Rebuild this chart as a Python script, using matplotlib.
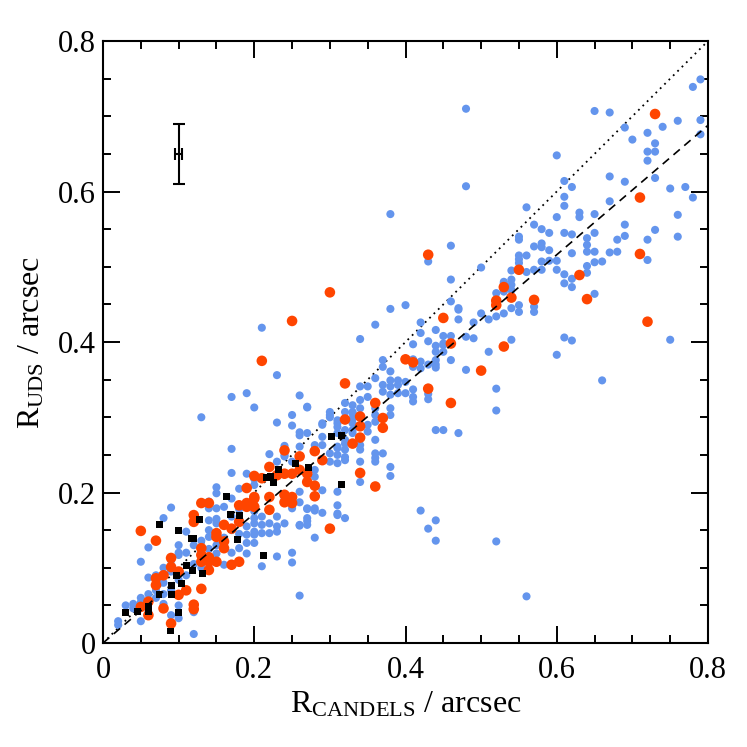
import numpy as np
import matplotlib
matplotlib.use("Agg")
import matplotlib.pyplot as plt
from matplotlib.ticker import MultipleLocator, FixedFormatter, FixedLocator

# sizes in arcsec
blue_pts = [
    (0.02, 0.024), (0.02, 0.029), (0.03, 0.05), (0.04, 0.052), (0.04, 0.046),
    (0.05, 0.029), (0.05, 0.054), (0.05, 0.108), (0.05, 0.06), (0.06, 0.087),
    (0.06, 0.127), (0.06, 0.04), (0.06, 0.065), (0.07, 0.07), (0.07, 0.06),
    (0.07, 0.09), (0.08, 0.166), (0.08, 0.052), (0.08, 0.08), (0.08, 0.10),
    (0.08, 0.065), (0.09, 0.18), (0.09, 0.037), (0.09, 0.095), (0.09, 0.11),
    (0.09, 0.07), (0.10, 0.13), (0.10, 0.117), (0.10, 0.084), (0.10, 0.05),
    (0.10, 0.033), (0.10, 0.12), (0.11, 0.148), (0.11, 0.12), (0.11, 0.09),
    (0.12, 0.041), (0.12, 0.012), (0.12, 0.105), (0.12, 0.13), (0.13, 0.136),
    (0.13, 0.30), (0.13, 0.115), (0.13, 0.10), (0.14, 0.179), (0.14, 0.163),
    (0.14, 0.15), (0.14, 0.125), (0.14, 0.188), (0.14, 0.141), (0.15, 0.199),
    (0.15, 0.165), (0.15, 0.13), (0.15, 0.119), (0.15, 0.207), (0.15, 0.179),
    (0.15, 0.159), (0.16, 0.104), (0.16, 0.14), (0.16, 0.181), (0.17, 0.192),
    (0.17, 0.168), (0.17, 0.15), (0.17, 0.12), (0.17, 0.327), (0.17, 0.258),
    (0.17, 0.226), (0.18, 0.126), (0.18, 0.145), (0.18, 0.205), (0.18, 0.178),
    (0.19, 0.144), (0.19, 0.133), (0.19, 0.119), (0.19, 0.225), (0.19, 0.332),
    (0.19, 0.155), (0.20, 0.159), (0.20, 0.144), (0.20, 0.133), (0.20, 0.166),
    (0.20, 0.21), (0.20, 0.19), (0.20, 0.175), (0.20, 0.313), (0.20, 0.218),
    (0.20, 0.148),
    (0.21, 0.419), (0.23, 0.356), (0.26, 0.329), (0.25, 0.303), (0.23, 0.293),
    (0.25, 0.289), (0.26, 0.280), (0.24, 0.262), (0.22, 0.251), (0.24, 0.248),
    (0.27, 0.313), (0.26, 0.276), (0.28, 0.263), (0.29, 0.292), (0.30, 0.303),
    (0.31, 0.292), (0.32, 0.319), (0.33, 0.316), (0.33, 0.305), (0.33, 0.292),
    (0.33, 0.283), (0.32, 0.283), (0.32, 0.270), (0.32, 0.257), (0.32, 0.243),
    (0.31, 0.261), (0.31, 0.250), (0.31, 0.239), (0.30, 0.252), (0.30, 0.241),
    (0.29, 0.274), (0.29, 0.263), (0.28, 0.230), (0.28, 0.221), (0.29, 0.203),
    (0.31, 0.201), (0.32, 0.166), (0.34, 0.241), (0.26, 0.261), (0.24, 0.250),
    (0.25, 0.241), (0.23, 0.241), (0.21, 0.168), (0.21, 0.157), (0.21, 0.146),
    (0.22, 0.159), (0.22, 0.146), (0.23, 0.168), (0.23, 0.155), (0.23, 0.148),
    (0.24, 0.194), (0.24, 0.159), (0.25, 0.179), (0.26, 0.157), (0.27, 0.166),
    (0.27, 0.157), (0.27, 0.179), (0.28, 0.179), (0.28, 0.140), (0.31, 0.183),
    (0.31, 0.172), (0.27, 0.279), (0.23, 0.115), (0.25, 0.120), (0.25, 0.107),
    (0.26, 0.063), (0.21, 0.102),
    (0.31, 0.259), (0.32, 0.265), (0.32, 0.247), (0.34, 0.257), (0.36, 0.252),
    (0.36, 0.246), (0.36, 0.241), (0.37, 0.252), (0.38, 0.234), (0.38, 0.222),
    (0.34, 0.214), (0.26, 0.201), (0.26, 0.187), (0.27, 0.178), (0.28, 0.176),
    (0.29, 0.173), (0.27, 0.162), (0.26, 0.156), (0.31, 0.170), (0.42, 0.176),
    (0.43, 0.152), (0.44, 0.163), (0.44, 0.136), (0.52, 0.135), (0.56, 0.062),
    (0.40, 0.449), (0.38, 0.444), (0.36, 0.423), (0.34, 0.404), (0.42, 0.426),
    (0.42, 0.412), (0.44, 0.416), (0.46, 0.454), (0.47, 0.445), (0.43, 0.401),
    (0.45, 0.408), (0.46, 0.408), (0.41, 0.397), (0.44, 0.395), (0.44, 0.387),
    (0.45, 0.387), (0.45, 0.396), (0.46, 0.376), (0.43, 0.370), (0.44, 0.370),
    (0.44, 0.376), (0.42, 0.374), (0.42, 0.365), (0.37, 0.376), (0.37, 0.367),
    (0.38, 0.361), (0.36, 0.352), (0.37, 0.343), (0.37, 0.334), (0.38, 0.349),
    (0.38, 0.341), (0.39, 0.349), (0.39, 0.343), (0.39, 0.332), (0.40, 0.347),
    (0.40, 0.332), (0.41, 0.337), (0.41, 0.327), (0.41, 0.321), (0.43, 0.324),
    (0.43, 0.331), (0.35, 0.341), (0.35, 0.327), (0.34, 0.341), (0.34, 0.323),
    (0.34, 0.312), (0.33, 0.307), (0.33, 0.298), (0.33, 0.279), (0.32, 0.307),
    (0.31, 0.296), (0.31, 0.287), (0.31, 0.279), (0.30, 0.307), (0.30, 0.300),
    (0.29, 0.290), (0.27, 0.314), (0.36, 0.312), (0.36, 0.303), (0.36, 0.294),
    (0.38, 0.330), (0.38, 0.312), (0.38, 0.303), (0.35, 0.290), (0.35, 0.281),
    (0.44, 0.283), (0.45, 0.283), (0.47, 0.279), (0.34, 0.263), (0.36, 0.270),
    (0.43, 0.507), (0.47, 0.443), (0.47, 0.430), (0.48, 0.407), (0.49, 0.405),
    (0.49, 0.426), (0.50, 0.438), (0.51, 0.430), (0.52, 0.434), (0.53, 0.438),
    (0.53, 0.478), (0.53, 0.469), (0.54, 0.476), (0.51, 0.387), (0.52, 0.338),
    (0.52, 0.309), (0.48, 0.363), (0.44, 0.366), (0.43, 0.339), (0.41, 0.377),
    (0.41, 0.367),
    (0.48, 0.710), (0.48, 0.607), (0.38, 0.570), (0.46, 0.528), (0.46, 0.483),
    (0.50, 0.499),
    (0.61, 0.593), (0.61, 0.581), (0.56, 0.579), (0.60, 0.566), (0.63, 0.572),
    (0.63, 0.566), (0.65, 0.570), (0.57, 0.556), (0.58, 0.550), (0.59, 0.545),
    (0.61, 0.545), (0.62, 0.543), (0.55, 0.540), (0.55, 0.536), (0.58, 0.531),
    (0.58, 0.526), (0.57, 0.527), (0.59, 0.522), (0.64, 0.538), (0.64, 0.529),
    (0.64, 0.520), (0.65, 0.545), (0.65, 0.520), (0.62, 0.518), (0.55, 0.515),
    (0.55, 0.510), (0.55, 0.505), (0.56, 0.515), (0.58, 0.507), (0.59, 0.508),
    (0.60, 0.508), (0.60, 0.496), (0.54, 0.495), (0.65, 0.506), (0.56, 0.493),
    (0.57, 0.496), (0.58, 0.496), (0.61, 0.490), (0.61, 0.478), (0.62, 0.484),
    (0.62, 0.473), (0.53, 0.480), (0.54, 0.483), (0.54, 0.469), (0.52, 0.465),
    (0.53, 0.467), (0.65, 0.464), (0.45, 0.398), (0.54, 0.445), (0.55, 0.449),
    (0.55, 0.440), (0.57, 0.447), (0.57, 0.440), (0.54, 0.403), (0.61, 0.406),
    (0.62, 0.402), (0.60, 0.383),
    (0.78, 0.739), (0.79, 0.749), (0.76, 0.694), (0.74, 0.686), (0.79, 0.695),
    (0.79, 0.676), (0.69, 0.685), (0.70, 0.669), (0.72, 0.678), (0.73, 0.664),
    (0.72, 0.653), (0.73, 0.653), (0.72, 0.641), (0.65, 0.707), (0.67, 0.705),
    (0.60, 0.648), (0.61, 0.614), (0.62, 0.606), (0.67, 0.620), (0.69, 0.613),
    (0.75, 0.604), (0.77, 0.606), (0.78, 0.592), (0.73, 0.618), (0.67, 0.587),
    (0.76, 0.569), (0.76, 0.540), (0.73, 0.549), (0.68, 0.536), (0.69, 0.541),
    (0.72, 0.536), (0.66, 0.507), (0.67, 0.519), (0.69, 0.556), (0.68, 0.520),
    (0.72, 0.509), (0.64, 0.501), (0.64, 0.492), (0.66, 0.349), (0.75, 0.403),
]

red_pts = [
    (0.05, 0.149), (0.07, 0.136), (0.05, 0.048), (0.06, 0.037), (0.06, 0.055),
    (0.08, 0.046), (0.07, 0.086), (0.07, 0.077), (0.08, 0.090), (0.09, 0.113),
    (0.09, 0.101), (0.10, 0.095), (0.10, 0.064), (0.11, 0.070), (0.12, 0.051),
    (0.12, 0.045), (0.13, 0.072), (0.12, 0.170), (0.12, 0.161), (0.13, 0.186),
    (0.14, 0.186), (0.13, 0.126), (0.13, 0.117), (0.13, 0.108), (0.14, 0.108),
    (0.14, 0.097), (0.14, 0.114), (0.15, 0.146), (0.15, 0.141), (0.16, 0.135),
    (0.16, 0.126), (0.15, 0.108), (0.17, 0.104), (0.18, 0.108), (0.18, 0.183),
    (0.19, 0.186), (0.20, 0.192), (0.09, 0.026), (0.16, 0.157), (0.17, 0.152),
    (0.18, 0.161), (0.19, 0.206), (0.19, 0.181), (0.20, 0.222), (0.20, 0.194),
    (0.20, 0.181), (0.21, 0.219), (0.22, 0.234), (0.22, 0.194), (0.22, 0.177),
    (0.23, 0.223), (0.24, 0.256), (0.24, 0.225), (0.24, 0.197), (0.24, 0.187),
    (0.25, 0.225), (0.25, 0.194), (0.25, 0.186), (0.26, 0.248), (0.26, 0.230),
    (0.27, 0.225), (0.27, 0.214), (0.28, 0.255), (0.28, 0.209), (0.28, 0.195),
    (0.29, 0.243), (0.30, 0.152), (0.32, 0.297), (0.33, 0.265), (0.30, 0.466),
    (0.32, 0.345), (0.34, 0.301), (0.34, 0.288), (0.34, 0.273), (0.36, 0.319),
    (0.37, 0.299), (0.37, 0.286), (0.40, 0.377), (0.41, 0.373), (0.43, 0.338),
    (0.45, 0.432), (0.46, 0.398), (0.46, 0.319), (0.25, 0.428), (0.21, 0.375),
    (0.43, 0.516), (0.53, 0.394), (0.52, 0.455), (0.52, 0.449), (0.53, 0.473),
    (0.54, 0.459), (0.55, 0.496), (0.57, 0.456), (0.63, 0.489), (0.64, 0.457),
    (0.73, 0.703), (0.71, 0.592), (0.71, 0.517), (0.72, 0.427), (0.34, 0.226),
    (0.36, 0.208), (0.50, 0.362),
]

black_pts = [
    (0.03, 0.040), (0.045, 0.042), (0.06, 0.048), (0.06, 0.042), (0.075, 0.158),
    (0.10, 0.149), (0.117, 0.139), (0.12, 0.139), (0.128, 0.164), (0.163, 0.195),
    (0.168, 0.171), (0.181, 0.170), (0.178, 0.138), (0.074, 0.064), (0.09, 0.077),
    (0.091, 0.064), (0.097, 0.090), (0.104, 0.079), (0.110, 0.103), (0.118, 0.096),
    (0.131, 0.093), (0.10, 0.041), (0.089, 0.016), (0.216, 0.220), (0.222, 0.221),
    (0.225, 0.213), (0.232, 0.230), (0.255, 0.239), (0.272, 0.233), (0.302, 0.275),
    (0.315, 0.276), (0.315, 0.211), (0.212, 0.116),
]

# typical uncertainty shown top left
err_x, err_y = [0.1], [0.65]
err_dx, err_dy = [0.005], [0.04]

fit_slope = 0.86
line_x = [0.0, 0.8]

plt.rcParams['font.family'] = ['Liberation Serif', 'DejaVu Serif']
plt.rcParams['mathtext.fontset'] = 'custom'
plt.rcParams['mathtext.rm'] = 'Liberation Serif'
plt.rcParams['mathtext.it'] = 'Liberation Serif:italic'

blue = np.array(blue_pts)
red = np.array(red_pts)
black = np.array(black_pts)

fig = plt.figure(figsize=(7.47, 7.47), dpi=100)
ax = fig.add_axes([0.1379, 0.1392, 0.8099, 0.8059])

ax.plot(line_x, line_x, color='black', lw=1.3, linestyle=(0, (1, 2.4)), zorder=1)
ax.plot(line_x, [fit_slope * v for v in line_x], color='black', lw=1.2,
        linestyle=(0, (5, 3.5)), zorder=4)

ax.scatter(blue[:, 0], blue[:, 1], s=34, color='#6495ED', edgecolors='none', zorder=2)
ax.scatter(red[:, 0], red[:, 1], s=58, color='#FF4500', edgecolors='none', zorder=3)
ax.scatter(black[:, 0], black[:, 1], s=25, marker='s', color='black',
           edgecolors='none', zorder=5)

ax.errorbar(err_x, err_y, xerr=err_dx, yerr=err_dy, fmt='none', ecolor='black',
            elinewidth=1.5, capsize=4.3, capthick=1.5, zorder=6)

ax.set_xlim(0, 0.8)
ax.set_ylim(0, 0.8)

ticks = [0, 0.2, 0.4, 0.6, 0.8]
tick_labels = ['0', '0.2', '0.4', '0.6', '0.8']
for axis in (ax.xaxis, ax.yaxis):
    axis.set_major_locator(FixedLocator(ticks))
    axis.set_major_formatter(FixedFormatter(tick_labels))
    axis.set_minor_locator(MultipleLocator(0.05))

ax.tick_params(which='both', direction='in', top=True, right=True, width=1.4,
               labelsize=22)
ax.tick_params(which='major', length=12.5)
ax.tick_params(which='minor', length=6)
ax.tick_params(axis='x', pad=9)
ax.tick_params(axis='y', pad=5)
for sp in ax.spines.values():
    sp.set_linewidth(1.5)

ax.set_xlabel(r'R$_{\mathrm{CANDELS}}$ / arcsec', fontsize=23, labelpad=4)
ax.set_ylabel(r'R$_{\mathrm{UDS}}$ / arcsec', fontsize=23, labelpad=8)

fig.savefig('out.png', dpi=100)
